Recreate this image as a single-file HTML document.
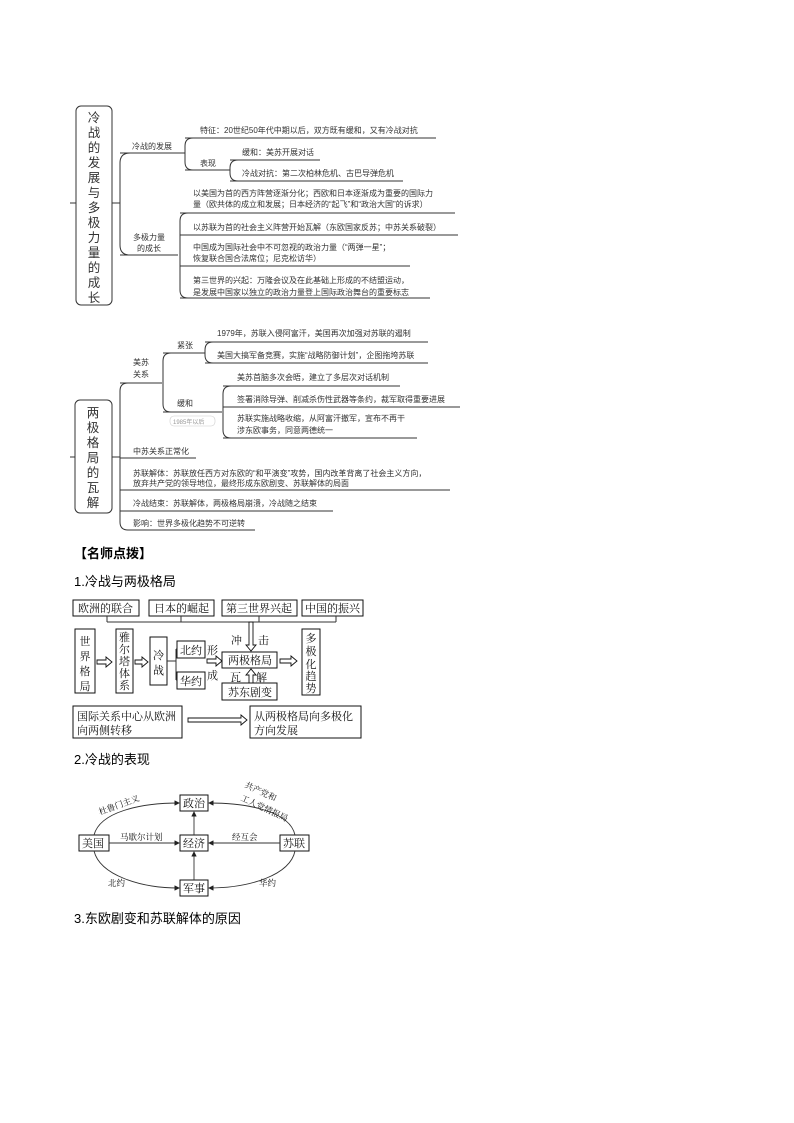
<!DOCTYPE html>
<html><head><meta charset="utf-8"><style>
html,body{margin:0;padding:0;background:#fff}
svg{display:block}
.s{font-family:"Liberation Sans","Noto Sans CJK SC",sans-serif;font-size:8px;fill:#333}
.r{font-family:"Liberation Serif","Noto Serif CJK SC",serif;font-size:11px;fill:#111}
.h{font-family:"Liberation Sans","Noto Sans CJK SC",sans-serif;font-size:13px;fill:#000}
.l{stroke:#333;stroke-width:1;fill:none}
.b{stroke:#111;stroke-width:1;fill:#fff}
</style></head><body>
<svg width="794" height="1123" viewBox="0 0 794 1123" xmlns="http://www.w3.org/2000/svg">
<defs><marker id="a" markerWidth="6" markerHeight="6" refX="5" refY="3" orient="auto"><path d="M0,0 L6,3 L0,6 z" fill="#222"/></marker></defs>

<!-- mindmap 1 -->
<line x1="70" y1="203" x2="76" y2="203" class="l"/>
<rect x="76" y="106" width="36" height="199" rx="5" class="l" stroke-width="1.3"/>
<g class="s" style="font-size:12.5px" text-anchor="middle">
<text x="94" y="122">冷</text><text x="94" y="137">战</text><text x="94" y="152">的</text><text x="94" y="167">发</text><text x="94" y="182">展</text><text x="94" y="197">与</text><text x="94" y="212">多</text><text x="94" y="227">极</text><text x="94" y="242">力</text><text x="94" y="257">量</text><text x="94" y="272">的</text><text x="94" y="287">成</text><text x="94" y="302">长</text>
</g>
<line x1="112" y1="203" x2="120" y2="203" class="l"/>
<path d="M130,153 Q120,153 120,163 L120,245 Q120,255 130,255" class="l"/>
<line x1="120" y1="153" x2="185" y2="153" class="l"/>
<line x1="120" y1="255" x2="178" y2="255" class="l"/>
<text class="s" x="132" y="149">冷战的发展</text>
<text class="s" x="133" y="240">多极力量</text><text class="s" x="137" y="251">的成长</text>
<path d="M193,138 Q185,138 185,146 L185,162 Q185,170 193,170" class="l"/>
<line x1="185" y1="138" x2="436" y2="138" class="l"/>
<line x1="185" y1="170" x2="230" y2="170" class="l"/>
<text class="s" x="200" y="133">特征：20世纪50年代中期以后，双方既有缓和，又有冷战对抗</text>
<text class="s" x="200" y="166">表现</text>
<path d="M238,160 Q230,160 230,168 L230,173 Q230,181 238,181" class="l"/>
<line x1="230" y1="160" x2="320" y2="160" class="l"/>
<line x1="230" y1="181" x2="403" y2="181" class="l"/>
<text class="s" x="242" y="155">缓和：美苏开展对话</text>
<text class="s" x="242" y="176">冷战对抗：第二次柏林危机、古巴导弹危机</text>
<path d="M188,213 Q180,213 180,221 L180,290 Q180,298 188,298" class="l"/>
<line x1="180" y1="213" x2="455" y2="213" class="l"/>
<line x1="180" y1="235" x2="458" y2="235" class="l"/>
<line x1="180" y1="266" x2="410" y2="266" class="l"/>
<line x1="180" y1="298" x2="430" y2="298" class="l"/>
<text class="s" x="193" y="196">以美国为首的西方阵营逐渐分化；西欧和日本逐渐成为重要的国际力</text>
<text class="s" x="193" y="207">量（欧共体的成立和发展；日本经济的“起飞”和“政治大国”的诉求）</text>
<text class="s" x="193" y="230">以苏联为首的社会主义阵营开始瓦解（东欧国家反苏；中苏关系破裂）</text>
<text class="s" x="193" y="250">中国成为国际社会中不可忽视的政治力量（“两弹一星”；</text>
<text class="s" x="193" y="261">恢复联合国合法席位；尼克松访华）</text>
<text class="s" x="193" y="283">第三世界的兴起：万隆会议及在此基础上形成的不结盟运动，</text>
<text class="s" x="193" y="295">是发展中国家以独立的政治力量登上国际政治舞台的重要标志</text>

<!-- mindmap 2 -->
<line x1="70" y1="457" x2="75" y2="457" class="l"/>
<rect x="75" y="400" width="37" height="113" rx="5" class="l" stroke-width="1.3"/>
<g class="s" style="font-size:12.5px" text-anchor="middle">
<text x="93" y="417">两</text><text x="93" y="432">极</text><text x="93" y="447">格</text><text x="93" y="462">局</text><text x="93" y="477">的</text><text x="93" y="492">瓦</text><text x="93" y="507">解</text>
</g>
<line x1="112" y1="457" x2="120" y2="457" class="l"/>
<path d="M128,383 Q120,383 120,391 L120,522 Q120,530 128,530" class="l"/>
<line x1="120" y1="383" x2="162" y2="383" class="l"/>
<text class="s" x="133" y="365">美苏</text><text class="s" x="133" y="377">关系</text>
<path d="M171,353 Q163,353 163,361 L163,404 Q163,412 171,412" class="l"/>
<line x1="163" y1="353" x2="205" y2="353" class="l"/>
<line x1="163" y1="412" x2="222" y2="412" class="l"/>
<text class="s" x="177" y="348">紧张</text>
<text class="s" x="177" y="406">缓和</text>
<rect x="170" y="416" width="45" height="10" rx="4" fill="#fff" stroke="#ccc" stroke-width="0.6"/>
<text class="s" x="173" y="424" style="font-size:6px;fill:#999">1985年以后</text>
<path d="M213,342 Q205,342 205,350 L205,355 Q205,363 213,363" class="l"/>
<line x1="205" y1="342" x2="428" y2="342" class="l"/>
<line x1="205" y1="363" x2="428" y2="363" class="l"/>
<text class="s" x="217" y="336">1979年，苏联入侵阿富汗，美国再次加强对苏联的遏制</text>
<text class="s" x="217" y="358">美国大搞军备竞赛，实施“战略防御计划”，企图拖垮苏联</text>
<path d="M231,386 Q223,386 223,394 L223,430 Q223,438 231,438" class="l"/>
<line x1="223" y1="386" x2="400" y2="386" class="l"/>
<line x1="223" y1="407" x2="460" y2="407" class="l"/>
<line x1="223" y1="438" x2="417" y2="438" class="l"/>
<text class="s" x="237" y="380">美苏首脑多次会晤，建立了多层次对话机制</text>
<text class="s" x="237" y="402">签署消除导弹、削减杀伤性武器等条约，裁军取得重要进展</text>
<text class="s" x="237" y="421">苏联实施战略收缩，从阿富汗撤军，宣布不再干</text>
<text class="s" x="237" y="433">涉东欧事务，同意两德统一</text>
<line x1="120" y1="458" x2="196" y2="458" class="l"/>
<line x1="120" y1="490" x2="450" y2="490" class="l"/>
<line x1="120" y1="511" x2="333" y2="511" class="l"/>
<line x1="128" y1="530" x2="255" y2="530" class="l"/>
<text class="s" x="133" y="454">中苏关系正常化</text>
<text class="s" x="133" y="476">苏联解体：苏联放任西方对东欧的“和平演变”攻势，国内改革背离了社会主义方向，</text>
<text class="s" x="133" y="486">放弃共产党的领导地位，最终形成东欧剧变、苏联解体的局面</text>
<text class="s" x="133" y="506">冷战结束：苏联解体，两极格局崩溃，冷战随之结束</text>
<text class="s" x="133" y="526">影响：世界多极化趋势不可逆转</text>

<!-- headings -->
<text class="h" x="74" y="558" font-weight="bold">【名师点拨】</text>
<text class="h" x="74" y="586">1.冷战与两极格局</text>
<text class="h" x="74" y="764">2.冷战的表现</text>
<text class="h" x="74" y="923">3.东欧剧变和苏联解体的原因</text>

<!-- diagram 1 -->
<g class="b">
<rect x="73" y="600" width="66" height="16"/><rect x="149" y="600" width="65" height="16"/>
<rect x="222" y="600" width="75" height="16"/><rect x="302" y="600" width="61" height="16"/>
<rect x="75" y="629" width="20" height="64"/><rect x="116" y="629" width="17" height="64"/>
<rect x="150" y="637" width="17" height="48"/>
<rect x="177" y="641" width="28" height="17"/><rect x="177" y="672" width="28" height="17"/>
<rect x="222" y="652" width="55" height="16"/><rect x="222" y="683" width="55" height="17"/>
<rect x="302" y="629" width="18" height="66"/>
<rect x="73" y="706" width="109" height="32"/><rect x="250" y="706" width="111" height="32"/>
</g>
<g class="r">
<text x="78" y="612">欧洲的联合</text><text x="154" y="612">日本的崛起</text>
<text x="226" y="612">第三世界兴起</text><text x="305" y="612">中国的振兴</text>
<text x="180" y="654">北约</text><text x="180" y="685">华约</text>
<text x="228" y="664">两极格局</text><text x="228" y="696">苏东剧变</text>
<text x="231" y="644">冲</text><text x="258" y="644">击</text>
<text x="230" y="681">瓦</text><text x="256" y="681">解</text>
<text x="207" y="654">形</text><text x="207" y="679">成</text>
<text x="77" y="720">国际关系中心从欧洲</text><text x="77" y="734">向两侧转移</text>
<text x="254" y="720">从两极格局向多极化</text><text x="254" y="734">方向发展</text>
</g>
<g class="r" text-anchor="middle">
<text x="85" y="645">世</text><text x="85" y="660">界</text><text x="85" y="675">格</text><text x="85" y="690">局</text>
<text x="124.5" y="641">雅</text><text x="124.5" y="653">尔</text><text x="124.5" y="665">塔</text><text x="124.5" y="677">体</text><text x="124.5" y="689">系</text>
<text x="158.5" y="659">冷</text><text x="158.5" y="674">战</text>
<text x="311" y="642">多</text><text x="311" y="655">极</text><text x="311" y="668">化</text><text x="311" y="680">趋</text><text x="311" y="692">势</text>
</g>
<g class="l" stroke="#111">
<line x1="107" y1="616" x2="107" y2="622"/><line x1="181" y1="616" x2="181" y2="622"/>
<line x1="259" y1="616" x2="259" y2="622"/><line x1="336" y1="616" x2="336" y2="622"/>
<line x1="107" y1="622" x2="336" y2="622"/>
<line x1="167" y1="661" x2="176" y2="661"/><line x1="176" y1="649" x2="176" y2="680"/>
<line x1="176" y1="649" x2="177" y2="649"/><line x1="176" y1="680" x2="177" y2="680"/>
</g>
<g fill="#fff" stroke="#111" stroke-width="0.9">
<polygon points="97,660 106,660 106,657 112,662 106,667 106,664 97,664"/>
<polygon points="135,660 142,660 142,657 148,662 142,667 142,664 135,664"/>
<polygon points="207,659 216,659 216,656 222,661 216,666 216,663 207,663"/>
<polygon points="280,659 291,659 291,656 297,661 291,666 291,663 280,663"/>
<polygon points="188,718 241,718 241,715 247,720 241,725 241,722 188,722"/>
<polygon points="249,622 249,645 246,645 251,651 256,645 253,645 253,622"/>
<polygon points="249,683 249,675 246,675 251,669 256,675 253,675 253,683"/>
</g>

<!-- diagram 2 -->
<g class="b">
<rect x="180" y="795" width="28" height="16"/><rect x="180" y="835" width="28" height="16"/>
<rect x="180" y="880" width="28" height="16"/><rect x="79" y="835" width="30" height="16"/>
<rect x="280" y="835" width="29" height="16"/>
</g>
<g class="r" style="font-size:11px">
<text x="183" y="807">政治</text><text x="183" y="847">经济</text><text x="183" y="892">军事</text>
<text x="82" y="847">美国</text><text x="283" y="847">苏联</text>
</g>
<g style="stroke:#333;stroke-width:0.9;fill:none">
<line x1="109" y1="843" x2="179" y2="843" marker-end="url(#a)"/>
<line x1="280" y1="843" x2="209" y2="843" marker-end="url(#a)"/>
<line x1="194" y1="835" x2="194" y2="812" marker-end="url(#a)"/>
<line x1="194" y1="880" x2="194" y2="852" marker-end="url(#a)"/>
<path d="M94,835 C100,812 140,803 179,803" marker-end="url(#a)"/>
<path d="M295,835 C290,812 250,803 209,803" marker-end="url(#a)"/>
<path d="M94,851 C100,875 140,888 179,888" marker-end="url(#a)"/>
<path d="M295,851 C290,875 250,888 209,888" marker-end="url(#a)"/>
</g>
<g class="r" style="font-size:8.5px">
<text x="100" y="815" transform="rotate(-20 100 815)">杜鲁门主义</text>
<text x="120" y="840">马歇尔计划</text>
<text x="232" y="840">经互会</text>
<text x="244" y="787" transform="rotate(25 244 787)">共产党和</text>
<text x="240" y="800" transform="rotate(25 240 800)">工人党情报局</text>
<text x="108" y="886">北约</text>
<text x="259" y="886">华约</text>
</g>
</svg>
</body></html>
